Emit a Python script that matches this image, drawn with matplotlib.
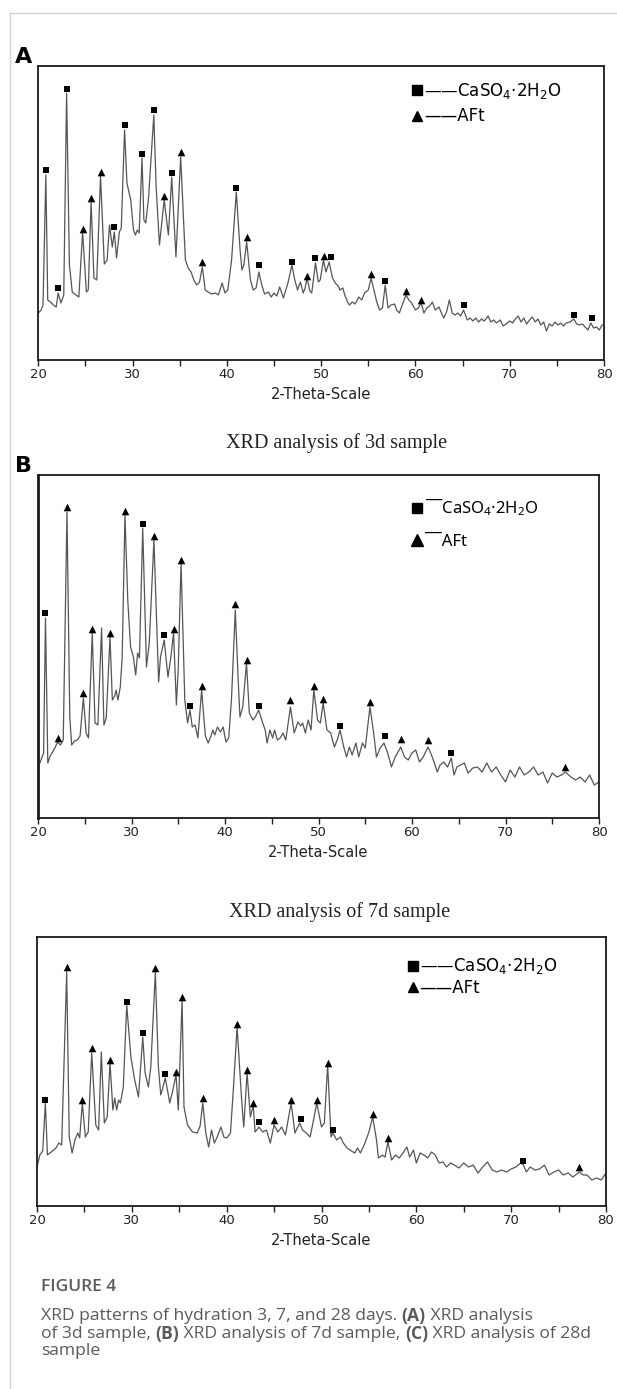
import matplotlib
matplotlib.use('Agg')
import matplotlib.pyplot as plt
from matplotlib.lines import Line2D

plt.rcParams['font.family'] = ['DejaVu Sans']
plt.rcParams['mathtext.default'] = 'regular'

# ---- data (2-theta in degrees, intensity in arbitrary units) ----
# 3d sample
theta_3d = [20.0, 20.3, 20.5, 20.8, 21.0, 21.3, 21.6, 21.9, 22.1, 22.4, 22.7, 23.0, 23.3, 23.6,
            24.0, 24.3, 24.7, 25.1, 25.3, 25.6, 25.9, 26.2, 26.6, 27.0, 27.3, 27.55, 27.85, 28.06,
            28.3, 28.6, 28.8, 29.15, 29.4, 29.8, 30.1, 30.3, 30.5, 30.7, 31.0, 31.2, 31.4, 31.7,
            32.25, 32.5, 32.85, 33.35, 33.8, 34.15, 34.6, 35.1, 35.6, 35.9, 36.2, 36.5, 36.8, 37.1,
            37.4, 37.7, 38.0, 38.4, 38.8, 39.1, 39.5, 39.8, 40.1, 40.5, 41.0, 41.4, 41.6, 41.8,
            42.1, 42.5, 42.8, 43.1, 43.4, 43.7, 44.0, 44.4, 44.7, 45.0, 45.3, 45.6, 46.0, 46.5,
            46.9, 47.2, 47.5, 47.8, 48.1, 48.3, 48.5, 48.8, 49.0, 49.4, 49.7, 49.9, 50.25, 50.5,
            50.85, 51.2, 51.5, 51.8, 52.0, 52.3, 52.5, 52.8, 53.0, 53.3, 53.6, 54.0, 54.3, 54.6,
            55.0, 55.3, 55.6, 55.9, 56.2, 56.5, 56.8, 57.1, 57.4, 57.8, 58.0, 58.3, 58.6, 59.0,
            59.3, 59.6, 60.0, 60.3, 60.6, 60.9, 61.2, 61.5, 61.8, 62.1, 62.5, 62.8, 63.0, 63.3,
            63.6, 63.9, 64.2, 64.5, 64.8, 65.1, 65.5, 65.8, 66.1, 66.4, 66.7, 67.0, 67.3, 67.7,
            68.0, 68.3, 68.6, 69.0, 69.3, 69.6, 70.0, 70.3, 70.6, 70.9, 71.2, 71.5, 71.8, 72.1,
            72.4, 72.7, 73.0, 73.3, 73.6, 73.9, 74.2, 74.5, 74.8, 75.1, 75.4, 75.7, 76.0, 76.4,
            76.8, 77.1, 77.4, 77.7, 78.0, 78.3, 78.6, 78.9, 79.2, 79.5, 79.8, 80.0]
int_3d = [47, 50, 55, 185, 60, 58, 55, 53, 67, 57, 65, 267, 95, 68,
          65, 63, 128, 68, 70, 158, 82, 80, 184, 96, 100, 135, 113, 128,
          102, 128, 132, 230, 177, 160, 130, 125, 130, 127, 202, 140, 137, 163,
          245, 173, 115, 160, 125, 183, 103, 203, 100, 92, 88, 80, 75, 78,
          93, 70, 68, 66, 67, 65, 77, 67, 70, 100, 168, 110, 90, 95,
          118, 80, 70, 72, 88, 75, 66, 68, 63, 67, 64, 73, 62, 78,
          95, 80, 70, 78, 67, 72, 82, 69, 67, 97, 78, 80, 100, 88,
          98, 82, 77, 74, 70, 72, 65, 58, 55, 58, 56, 63, 60, 67,
          70, 82, 70, 58, 50, 52, 75, 52, 55, 56, 50, 47, 55, 65,
          60, 57, 50, 52, 57, 47, 52, 54, 58, 50, 53, 46, 42, 48,
          60, 47, 45, 47, 44, 50, 40, 42, 39, 42, 38, 41, 39, 44,
          38, 40, 37, 40, 34, 36, 39, 37, 41, 44, 38, 42, 36, 40,
          43, 38, 41, 35, 38, 29, 36, 34, 38, 35, 37, 34, 37, 38,
          41, 36, 35, 36, 33, 30, 37, 32, 33, 30, 35, 35]
gyp_3d_theta = [20.8, 22.1, 23.0, 28.06, 29.15, 31.0, 32.25, 34.15, 41.0, 43.45, 46.9, 49.4, 51.0, 56.8, 65.2, 76.8, 78.7]
gyp_3d_int = [190, 72, 271, 133, 235, 206, 250, 187, 172, 95, 98, 102, 103, 79, 55, 45, 42]
aft_3d_theta = [24.7, 25.6, 26.6, 33.35, 35.1, 37.4, 42.1, 48.5, 50.25, 55.3, 59.0, 60.6]
aft_3d_int = [131, 162, 188, 164, 208, 98, 123, 84, 104, 86, 69, 60]

# 7d sample
theta_7d = [20.0, 20.2, 20.4, 20.6, 20.8, 21.05, 21.3, 21.5, 21.8, 22.1, 22.4, 22.7, 23.1, 23.4,
            23.6, 23.9, 24.2, 24.5, 24.85, 25.15, 25.4, 25.8, 26.1, 26.4, 26.8, 27.05, 27.3, 27.7,
            27.95, 28.2, 28.35, 28.55, 28.8, 29.0, 29.3, 29.6, 29.9, 30.2, 30.45, 30.65, 30.85, 31.2,
            31.6, 31.9, 32.4, 32.9, 33.1, 33.5, 33.9, 34.2, 34.5, 34.8, 35.0, 35.3, 35.7, 36.0,
            36.25, 36.5, 36.8, 37.1, 37.5, 37.9, 38.2, 38.5, 38.7, 38.9, 39.2, 39.5, 39.8, 40.1,
            40.4, 40.7, 41.1, 41.4, 41.6, 41.9, 42.3, 42.6, 43.0, 43.3, 43.6, 44.0, 44.3, 44.5,
            44.8, 45.1, 45.3, 45.6, 45.9, 46.2, 46.5, 47.0, 47.4, 47.8, 48.1, 48.3, 48.6, 48.9,
            49.2, 49.5, 49.9, 50.2, 50.5, 50.9, 51.3, 51.7, 52.0, 52.3, 52.7, 53.0, 53.3, 53.6,
            54.0, 54.3, 54.7, 55.0, 55.5, 55.9, 56.2, 56.6, 57.0, 57.4, 57.8, 58.2, 58.8, 59.2,
            59.6, 60.0, 60.4, 60.8, 61.2, 61.7, 62.0, 62.4, 62.7, 63.0, 63.4, 63.8, 64.2, 64.5,
            64.8, 65.2, 65.6, 66.0, 66.5, 67.0, 67.5, 68.0, 68.5, 69.0, 69.5, 70.0, 70.5, 71.0,
            71.5, 72.0, 72.5, 73.0, 73.5, 74.0, 74.5, 75.0, 75.5, 76.0, 76.4, 77.0, 77.5, 78.0,
            78.5, 79.0, 79.5, 80.0]
int_7d = [58, 55, 60, 65, 200, 55, 62, 65, 70, 76, 73, 78, 306, 101,
          73, 77, 78, 82, 120, 85, 80, 185, 95, 93, 190, 93, 100, 181,
          118, 122, 128, 118, 131, 160, 303, 218, 171, 161, 143, 165, 160, 290,
          151, 175, 278, 136, 161, 178, 141, 160, 185, 113, 150, 255, 118, 95,
          108, 91, 93, 80, 128, 82, 75, 82, 88, 83, 91, 86, 91, 76,
          80, 120, 208, 140, 101, 111, 155, 105, 98, 102, 108, 96, 88, 75,
          88, 80, 88, 78, 80, 85, 78, 111, 85, 96, 92, 95, 85, 98,
          88, 128, 98, 95, 115, 88, 85, 71, 78, 88, 71, 61, 71, 63,
          75, 61, 75, 70, 111, 85, 61, 70, 75, 65, 51, 61, 71, 61,
          58, 65, 68, 56, 61, 71, 65, 55, 46, 53, 56, 51, 60, 43,
          51, 53, 55, 45, 50, 51, 46, 55, 46, 51, 43, 36, 48, 41,
          51, 43, 46, 51, 43, 46, 35, 45, 41, 43, 46, 41, 38, 41,
          36, 43, 33, 36]
gyp_7d_theta = [20.8, 31.2, 33.5, 36.25, 43.6, 52.3, 57.1, 64.2]
gyp_7d_int = [205, 294, 183, 112, 112, 92, 82, 65]
aft_7d_theta = [22.1, 23.1, 24.85, 25.8, 27.7, 29.3, 32.4, 34.5, 35.3, 37.5, 41.1, 42.3, 47.0, 49.5,
                50.5, 55.5, 58.8, 61.7, 76.4]
aft_7d_int = [80, 311, 125, 189, 185, 307, 282, 189, 258, 132, 214, 158, 118, 132,
              119, 116, 79, 78, 51]

# 28d sample
theta_28d = [20.0, 20.3, 20.6, 20.88, 21.1, 21.5, 22.0, 22.3, 22.6, 23.13, 23.4, 23.7, 24.0, 24.3,
             24.5, 24.78, 25.1, 25.4, 25.77, 26.2, 26.5, 26.78, 27.1, 27.4, 27.7, 28.0, 28.2, 28.4,
             28.6, 28.8, 29.1, 29.46, 29.9, 30.3, 30.7, 31.15, 31.4, 31.74, 32.0, 32.48, 32.8, 33.05,
             33.2, 33.53, 34.0, 34.3, 34.66, 34.9, 35.3, 35.5, 35.87, 36.4, 36.9, 37.2, 37.48, 37.8,
             38.1, 38.4, 38.7, 39.0, 39.4, 39.7, 40.0, 40.4, 40.7, 41.1, 41.6, 41.8, 42.15, 42.5,
             42.8, 43.0, 43.4, 43.8, 44.2, 44.6, 45.0, 45.4, 45.8, 46.2, 46.8, 47.2, 47.7, 48.0,
             48.4, 48.8, 49.1, 49.5, 50.0, 50.3, 50.65, 51.0, 51.2, 51.6, 52.0, 52.3, 52.7, 53.0,
             53.5, 53.8, 54.1, 54.5, 55.0, 55.4, 55.8, 56.0, 56.4, 56.7, 57.0, 57.4, 57.8, 58.2,
             58.6, 59.0, 59.3, 59.7, 60.0, 60.4, 60.8, 61.2, 61.6, 62.0, 62.4, 62.8, 63.2, 63.6,
             64.0, 64.5, 65.0, 65.5, 66.0, 66.5, 67.0, 67.5, 68.0, 68.5, 69.0, 69.5, 70.0, 70.5,
             71.0, 71.3, 71.6, 72.0, 72.5, 73.0, 73.5, 74.0, 74.5, 75.0, 75.5, 76.0, 76.5, 77.2,
             77.6, 78.0, 78.5, 79.0, 79.5, 80.0]
int_28d = [39, 51, 55, 103, 51, 54, 58, 63, 61, 234, 69, 53, 66, 73,
           68, 103, 69, 74, 153, 81, 76, 154, 83, 89, 143, 96, 108, 96,
           106, 103, 119, 201, 149, 126, 109, 169, 133, 119, 139, 234, 139, 111,
           116, 128, 103, 115, 131, 96, 206, 99, 81, 74, 73, 80, 103, 73,
           59, 76, 63, 69, 79, 69, 68, 73, 116, 179, 103, 79, 133, 89,
           101, 74, 79, 74, 76, 63, 81, 74, 79, 71, 103, 73, 83, 76,
           73, 69, 83, 103, 79, 83, 141, 69, 73, 66, 69, 63, 58, 56,
           53, 58, 53, 61, 74, 89, 66, 48, 51, 49, 64, 46, 51, 48,
           53, 59, 49, 56, 43, 53, 51, 48, 54, 51, 43, 44, 39, 43,
           41, 38, 43, 39, 41, 33, 39, 44, 36, 34, 36, 34, 37, 39,
           43, 41, 34, 39, 36, 37, 41, 31, 34, 36, 31, 33, 29, 34,
           31, 31, 26, 28, 26, 33]
gyp_28d_theta = [20.88, 29.46, 31.15, 33.53, 43.4, 47.8, 51.2, 71.3]
gyp_28d_int = [106, 204, 173, 132, 84, 87, 76, 45]
aft_28d_theta = [23.13, 24.78, 25.77, 27.7, 32.48, 34.66, 35.3, 37.48, 41.1, 42.15, 42.8, 45.0,
                 46.8, 49.5, 50.65, 55.4, 57.0, 77.2]
aft_28d_int = [239, 106, 158, 146, 238, 134, 209, 108, 182, 136, 103, 86,
               106, 106, 143, 92, 68, 39]

W, H = 617, 1389
fig = plt.figure(figsize=(W / 100, H / 100), dpi=100)


def box(left, right, top, bottom):
    return [left / W, 1 - bottom / H, (right - left) / W, (bottom - top) / H]


def draw_panel(ax, t, inten, gt, gi, at, ai, ytop, msq=22, mtri=30):
    ax.plot(t, inten, color='#555555', lw=0.9)
    ax.scatter(gt, gi, marker='s', s=msq, color='black', linewidths=0, zorder=3)
    ax.scatter(at, ai, marker='^', s=mtri, color='black', linewidths=0, zorder=3)
    ax.set_xlim(20, 80)
    ax.set_ylim(0, ytop)
    ax.set_yticks([])
    ax.set_xticks(range(20, 81, 10))
    ax.set_xticks(range(25, 80, 10), minor=True)
    ax.tick_params(axis='x', which='both', direction='out', length=4, width=1,
                   labelsize=9.5, pad=2, colors='#222222')
    for s in ax.spines.values():
        s.set_linewidth(1.3)
        s.set_color('#1a1a1a')
    ax.set_xlabel('2-Theta-Scale', fontsize=10.5, labelpad=4, color='#222222')


def draw_legend(ax, dash, size, ms, spacing, anchor, family='DejaVu Sans', hlen=0.55):
    handles = [Line2D([], [], marker='s', ls='none', color='black', ms=ms),
               Line2D([], [], marker='^', ls='none', color='black', ms=ms + 1)]
    labels = [dash + 'CaSO$_4$·2H$_2$O', dash + 'AFt']
    ax.legend(handles, labels, loc='upper left', bbox_to_anchor=anchor, frameon=False,
              handlelength=hlen, handletextpad=0.15, labelspacing=spacing, borderpad=0,
              borderaxespad=0, prop={'size': size, 'family': family})


axA = fig.add_axes(box(38.3, 604, 66, 360))
draw_panel(axA, theta_3d, int_3d, gyp_3d_theta, gyp_3d_int, aft_3d_theta, aft_3d_int, 294)
draw_legend(axA, '——', 12, 6.5, 0.4, (0.662, 0.95))

axB = fig.add_axes(box(38, 599, 475, 818))
draw_panel(axB, theta_7d, int_7d, gyp_7d_theta, gyp_7d_int, aft_7d_theta, aft_7d_int, 343)
axB.spines['left'].set_linewidth(2)
draw_legend(axB, '‾‾', 12, 7.5, 0.93, (0.665, 0.937), family=['Noto Sans', 'DejaVu Sans'],
            hlen=0.7)

axC = fig.add_axes(box(37, 606, 937, 1206))
draw_panel(axC, theta_28d, int_28d, gyp_28d_theta, gyp_28d_int, aft_28d_theta, aft_28d_int, 269)
draw_legend(axC, '——', 12, 6.5, 0.15, (0.652, 0.928))

# panel letters and sub titles
fig.text(15 / W, 1 - 57 / H, 'A', fontsize=16, fontweight='bold', va='center', ha='left')
fig.text(15 / W, 1 - 466 / H, 'B', fontsize=16, fontweight='bold', va='center', ha='left')
fig.text(337 / W, 1 - 443 / H, 'XRD analysis of 3d sample', family='Liberation Serif',
         fontsize=14.5, ha='center', va='center', color='#222222')
fig.text(340 / W, 1 - 912 / H, 'XRD analysis of 7d sample', family='Liberation Serif',
         fontsize=14.5, ha='center', va='center', color='#222222')

# page frame lines
fig.add_artist(Line2D([10 / W, 10 / W], [0, 1 - 13 / H], transform=fig.transFigure,
                      color='#d0d0d0', lw=1))
fig.add_artist(Line2D([10 / W, 1], [1 - 13 / H, 1 - 13 / H], transform=fig.transFigure,
                      color='#d0d0d0', lw=1))

# caption
cap_color = '#5a5a5a'
fig.text(41 / W, 1 - 1287 / H, 'FIGURE 4', family='Open Sans', fontsize=12.5,
         fontweight='semibold', color=cap_color, va='center')
renderer = fig.canvas.get_renderer()
caption_lines = [
    [('XRD patterns of hydration 3, 7, and 28 days. ', 'normal'), ('(A)', 'bold'),
     (' XRD analysis', 'normal')],
    [('of 3d sample, ', 'normal'), ('(B)', 'bold'), (' XRD analysis of 7d sample, ', 'normal'),
     ('(C)', 'bold'), (' XRD analysis of 28d', 'normal')],
    [('sample', 'normal')],
]
for k, line in enumerate(caption_lines):
    x = 41 / W
    y = 1 - (1316 + 17.5 * k) / H
    for txt, wt in line:
        t = fig.text(x, y, txt, family='Open Sans', fontsize=12.6, fontweight=wt,
                     color=cap_color, va='center', ha='left')
        x += t.get_window_extent(renderer).width / W

fig.savefig('out.png', dpi=100)
